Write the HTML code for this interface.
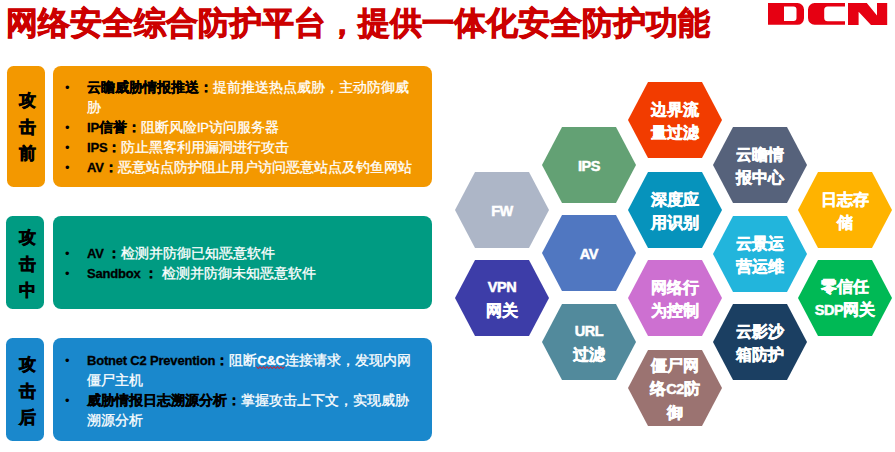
<!DOCTYPE html>
<html><head><meta charset="utf-8">
<style>
*{margin:0;padding:0;box-sizing:border-box}
html,body{width:895px;height:452px;overflow:hidden;background:#fff}
body{position:relative;font-family:"Liberation Sans",sans-serif}
.title{position:absolute;left:6px;top:0.5px;font-size:32px;line-height:44px;font-weight:bold;color:#CC0000;-webkit-text-stroke:0.9px #CC0000;white-space:nowrap;letter-spacing:0px}
.logo{position:absolute;left:760px;top:0px}
.box{position:absolute;border-radius:6px}
.lab{border-radius:6.5px !important;-webkit-text-stroke:0.6px #000;display:flex;flex-direction:column;align-items:center;justify-content:center;font-size:17px;font-weight:bold;color:#000;line-height:26.7px;padding-left:3px;padding-top:3px}
.txt{border-radius:8px !important;display:flex;flex-direction:column;justify-content:center;font-size:14px;line-height:20px;color:#fff;white-space:nowrap}
.ln{position:relative;padding-left:34px;height:20px}
.ln b{color:#000;-webkit-text-stroke:0.3px #000}
.ln{-webkit-text-stroke:0.3px #fff}
.en{font-size:13px;letter-spacing:-0.2px}
.hen{font-size:14.5px;letter-spacing:-0.4px}
.ln i.bu{position:absolute;left:12px;top:0;font-style:normal;color:#000;font-size:13px;top:1px;-webkit-text-stroke:0}
.or{background:#F39800}
.gr{background:#009B82}
.bl{background:#1A88CC}
.hex{position:absolute;width:94px;height:76px}
.hex svg{position:absolute;left:0;top:0}
.hex div{position:absolute;left:0;top:0.5px;-webkit-text-stroke:0.5px #fff;width:94px;height:76px;display:flex;align-items:center;justify-content:center;text-align:center;color:#fff;font-weight:bold;font-size:16px;line-height:23px;white-space:nowrap}
.wavy{text-decoration:underline wavy #E00000;text-decoration-thickness:1px;text-underline-offset:0px}
</style></head><body>
<div class="title">网络安全综合防护平台，提供一体化安全防护功能</div>
<svg class="logo" width="135" height="30" viewBox="0 0 135 30">
  <path fill="#E60012" fill-rule="evenodd" d="M8,3 H37.5 A6.5,6.5 0 0 1 44,9.5 V18.3 A6.5,6.5 0 0 1 37.5,24.8 H8 Z M24,6.4 H33.5 A3,3 0 0 1 36.5,9.4 V18.1 A3,3 0 0 1 33.5,21.1 H24 Z"/>
  <path fill="#E60012" d="M85,3 H54.6 A6.6,6.6 0 0 0 48,9.6 V18.1 A6.6,6.6 0 0 0 54.6,24.7 H85 V21.2 H67.7 A3.5,3.5 0 0 1 64.2,17.7 V10.1 A3.5,3.5 0 0 1 67.7,6.6 H85 Z"/>
  <path fill="#E60012" d="M88,3 H106.8 L117,15.6 V3 H127.2 V25 H111 L98.6,11.7 V25 H88 Z"/>
</svg>

<div class="box or lab" style="left:7px;top:66px;width:38px;height:121px">攻<br>击<br>前</div>
<div class="box or txt" style="left:53px;top:66px;width:379px;height:121px">
  <div class="ln"><i class="bu">•</i><b>云瞻威胁情报推送：</b>提前推送热点威胁，主动防御威</div>
  <div class="ln">胁</div>
  <div class="ln"><i class="bu">•</i><b><span class="en">IP</span>信誉：</b>阻断风险<span class="en">IP</span>访问服务器</div>
  <div class="ln"><i class="bu">•</i><b><span class="en">IPS</span>：</b>防止黑客利用漏洞进行攻击</div>
  <div class="ln"><i class="bu">•</i><b><span class="en">AV</span>：</b>恶意站点防护阻止用户访问恶意站点及钓鱼网站</div>
</div>

<div class="box gr lab" style="left:6px;top:216px;width:38px;height:93px;padding-top:5px;padding-left:4px">攻<br>击<br>中</div>
<div class="box gr txt" style="left:53px;top:216px;width:379px;height:93px">
  <div class="ln"><i class="bu">•</i><b><span class="en">AV </span>：</b>检测并防御已知恶意软件</div>
  <div class="ln"><i class="bu">•</i><b><span class="en">Sandbox </span>： </b>检测并防御未知恶意软件</div>
</div>

<div class="box bl lab" style="left:6px;top:338px;width:38px;height:103px;padding-top:5px;padding-left:4px">攻<br>击<br>后</div>
<div class="box bl txt" style="left:53px;top:338px;width:379px;height:103px">
  <div class="ln"><i class="bu">•</i><b><span class="en">Botnet C2 Prevention</span>：</b>阻断<span class="en" style="font-weight:bold">C&amp;C</span>连接请求，发现内网</div>
  <div class="ln">僵尸主机</div>
  <div class="ln"><i class="bu">•</i><b>威胁情报日志溯源分析：</b>掌握攻击上下文，实现威胁</div>
  <div class="ln">溯源分析</div>
</div>

<svg style="position:absolute;left:0;top:0" width="895" height="452"><polyline points="256.50,366.5 258.25,368.7 260.00,366.5 261.75,368.7 263.50,366.5 265.25,368.7 267.00,366.5 268.75,368.7 270.50,366.5 272.25,368.7 274.00,366.5 275.75,368.7 277.50,366.5 279.25,368.7 281.00,366.5 282.75,368.7 284.50,366.5" fill="none" stroke="#E8141E" stroke-width="1"/></svg>
<!-- hexagons -->
<div class="hex" style="left:455px;top:172px"><svg width="94" height="76"><polygon points="20,0 74,0 94,38 74,76 20,76 0,38" fill="#ADB6C7"/></svg><div><p><span class="hen">FW</span></p></div></div>
<div class="hex" style="left:455px;top:260px"><svg width="94" height="76"><polygon points="20,0 74,0 94,38 74,76 20,76 0,38" fill="#3D3DA8"/></svg><div><p><span class="hen">VPN</span><br>网关</p></div></div>

<div class="hex" style="left:542px;top:127px"><svg width="94" height="76"><polygon points="20,0 74,0 94,38 74,76 20,76 0,38" fill="#63A174"/></svg><div><p><span class="hen">IPS</span></p></div></div>
<div class="hex" style="left:542px;top:215px"><svg width="94" height="76"><polygon points="20,0 74,0 94,38 74,76 20,76 0,38" fill="#5077C1"/></svg><div><p><span class="hen">AV</span></p></div></div>
<div class="hex" style="left:542px;top:304px"><svg width="94" height="76"><polygon points="20,0 74,0 94,38 74,76 20,76 0,38" fill="#528A9C"/></svg><div><p><span class="hen">URL</span><br>过滤</p></div></div>

<div class="hex" style="left:628px;top:82px"><svg width="94" height="76"><polygon points="20,0 74,0 94,38 74,76 20,76 0,38" fill="#F23C00"/></svg><div><p>边界流<br>量过滤</p></div></div>
<div class="hex" style="left:628px;top:172px"><svg width="94" height="76"><polygon points="20,0 74,0 94,38 74,76 20,76 0,38" fill="#0693BC"/></svg><div><p>深度应<br>用识别</p></div></div>
<div class="hex" style="left:628px;top:260px"><svg width="94" height="76"><polygon points="20,0 74,0 94,38 74,76 20,76 0,38" fill="#CD70D1"/></svg><div><p>网络行<br>为控制</p></div></div>
<div class="hex" style="left:628px;top:350px"><svg width="94" height="76"><polygon points="20,0 74,0 94,38 74,76 20,76 0,38" fill="#9B7371"/></svg><div><p>僵尸网<br>络<span class="hen">C2</span>防<br>御</p></div></div>

<div class="hex" style="left:713px;top:127px"><svg width="94" height="76"><polygon points="20,0 74,0 94,38 74,76 20,76 0,38" fill="#56627B"/></svg><div><p>云瞻情<br>报中心</p></div></div>
<div class="hex" style="left:713px;top:216px"><svg width="94" height="76"><polygon points="20,0 74,0 94,38 74,76 20,76 0,38" fill="#22B5DC"/></svg><div><p>云景运<br>营运维</p></div></div>
<div class="hex" style="left:713px;top:304px"><svg width="94" height="76"><polygon points="20,0 74,0 94,38 74,76 20,76 0,38" fill="#1B3F62"/></svg><div><p>云影沙<br>箱防护</p></div></div>

<div class="hex" style="left:798px;top:172px"><svg width="94" height="76"><polygon points="20,0 74,0 94,38 74,76 20,76 0,38" fill="#FFB300"/></svg><div><p>日志存<br>储</p></div></div>
<div class="hex" style="left:798px;top:260px"><svg width="94" height="76"><polygon points="20,0 74,0 94,38 74,76 20,76 0,38" fill="#00B955"/></svg><div><p>零信任<br><span class="hen">SDP</span>网关</p></div></div>
</body></html>
